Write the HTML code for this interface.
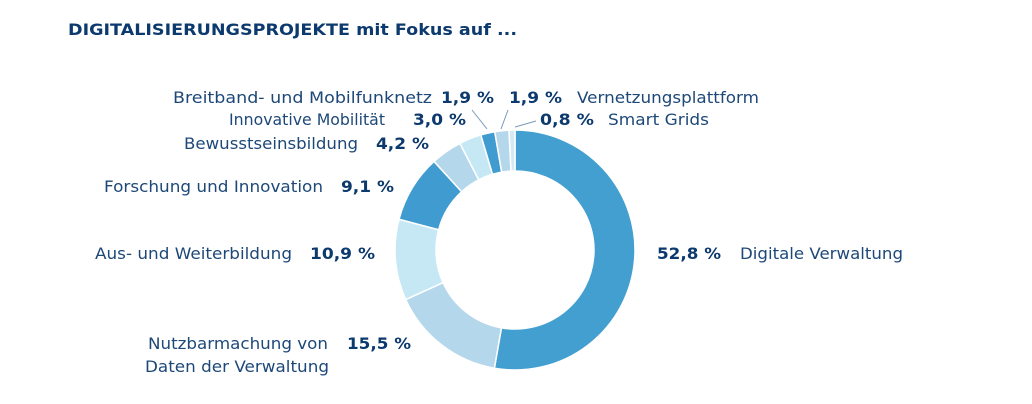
<!DOCTYPE html>
<html><head><meta charset="utf-8"><style>
html,body{margin:0;padding:0;background:#fff;}
svg{display:block;font-family:"DejaVu Sans","Liberation Sans",sans-serif;}
.l{fill:#1d4878;font-size:16px;}
.p{fill:#0d3a6e;font-size:16px;font-weight:bold;}
</style></head><body>
<svg width="1032" height="404" viewBox="0 0 1032 404">
<text x="68" y="35" fill="#0d3a6e" font-size="16" font-weight="bold" textLength="449" lengthAdjust="spacingAndGlyphs">DIGITALISIERUNGSPROJEKTE mit Fokus auf ...</text>
<g id="slices"></g>
<g stroke="#7a9bb8" stroke-width="1">
<line x1="472" y1="110" x2="487" y2="129"/>
<line x1="508" y1="110" x2="501" y2="129"/>
<line x1="536" y1="121" x2="515" y2="127"/>
</g>
<g id="labels"></g>
</svg>
<script>
const categories=["Digitale Verwaltung","Nutzbarmachung von|Daten der Verwaltung","Aus- und Weiterbildung","Forschung und Innovation","Bewusstseinsbildung","Innovative Mobilität","Breitband- und Mobilfunknetz","Vernetzungsplattform","Smart Grids"];
const values=[52.8,15.5,10.9,9.1,4.2,3.0,1.9,1.9,0.8];
const valueLabels=["52,8 %","15,5 %","10,9 %","9,1 %","4,2 %","3,0 %","1,9 %","1,9 %","0,8 %"];
const colors=["#439fd0","#b4d7ec","#c6e8f5","#409bd0","#b4d7ec","#c6e8f5","#409bd0","#b4d7ec","#d4ebf6"];
const cx=515,cy=250,R=120,r=79;
const NS="http://www.w3.org/2000/svg";
const total=values.reduce((a,b)=>a+b,0);
const g=document.getElementById('slices');
function pt(a,rad){return [cx+rad*Math.sin(a),cy-rad*Math.cos(a)];}
let acc=0;
values.forEach((v,i)=>{
  const a0=acc/total*2*Math.PI; acc+=v; const a1=acc/total*2*Math.PI;
  const lg=(a1-a0)>Math.PI?1:0;
  const [x0,y0]=pt(a0,R),[x1,y1]=pt(a1,R),[x2,y2]=pt(a1,r),[x3,y3]=pt(a0,r);
  const p=document.createElementNS(NS,'path');
  p.setAttribute('d',`M${x0},${y0}A${R},${R} 0 ${lg} 1 ${x1},${y1}L${x2},${y2}A${r},${r} 0 ${lg} 0 ${x3},${y3}Z`);
  p.setAttribute('fill',colors[i]);p.setAttribute('stroke','#fff');p.setAttribute('stroke-width','1.5');
  
  
  g.appendChild(p);
});
// label layout: [labelX(start), pctX(start), y, label widths..., pct width]
const layout=[[740,657,259,[163],64],[148,347,349,[180,184],64],[95,310,259,[197],65],[104,341,192,[219],53],[184,376,149,[174],53],[229,413,125,[156],53],[173,441,103,[259],53],[577,509,103,[182],53],[608,540,125,[101],54]];
const lg2=document.getElementById('labels');
layout.forEach((L,i)=>{
  const parts=categories[i].split('|');
  parts.forEach((s,k)=>{
    const t=document.createElementNS(NS,'text');
    t.setAttribute('class','l');t.setAttribute('x',L[0]-(k?3:0));t.setAttribute('y',L[2]+k*23);
    t.setAttribute('textLength',L[3][k]);t.setAttribute('lengthAdjust','spacingAndGlyphs');
    
    
    t.textContent=s;lg2.appendChild(t);
  });
  const t=document.createElementNS(NS,'text');
  t.setAttribute('class','p');t.setAttribute('x',L[1]);t.setAttribute('y',L[2]);
  t.setAttribute('textLength',L[4]);t.setAttribute('lengthAdjust','spacingAndGlyphs');
  
  
  t.textContent=valueLabels[i];lg2.appendChild(t);
});
</script>
</body></html>
